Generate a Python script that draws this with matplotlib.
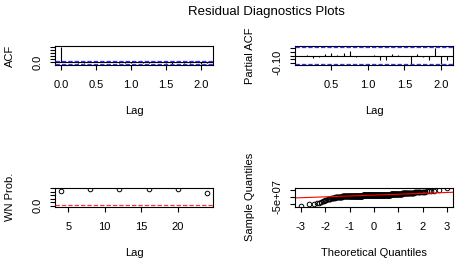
import matplotlib
matplotlib.use("Agg")
import matplotlib.pyplot as plt
import numpy as np
from statistics import NormalDist

plt.rcParams['font.family'] = ['Liberation Sans', 'DejaVu Sans']

# ---------------- data ----------------
FREQ = 12
acf_lags = list(range(0, 26))
acf_vals = [1.00, 0.00, 0.01, -0.03, -0.02, 0.02, 0.03, 0.01, 0.03, 0.05, -0.01,
            -0.01, -0.01, 0.01, -0.06, -0.05, 0.01, 0.00, -0.01, -0.11, 0.02,
            -0.02, -0.05, 0.09, -0.10, -0.06]
pacf_lags = list(range(1, 26))
pacf_vals = [0.00, 0.005, -0.035, -0.025, 0.015, 0.035, 0.01, 0.035, 0.055, -0.015,
             -0.01, -0.01, 0.005, -0.065, -0.055, 0.015, 0.005, -0.01, -0.12, 0.025,
             -0.02, -0.06, 0.10, -0.11, -0.06]
conf_limit = 0.12

wn_lags = [4, 8, 12, 16, 20, 24]
wn_pvals = [0.86, 0.97, 0.98, 0.98, 0.97, 0.70]
wn_threshold = 0.05

# sorted residuals, in units of 1e6
resid_sorted_e6 = [
    -117, -103, -101, -98, -94, -89, -84, -79, -75, -72, -69, -67, -64, -62, -60,
    -58, -57, -56, -55, -54, -53,
    -52, -51, -51, -50, -50, -49, -49, -48, -48,
    -47, -47, -47, -47, -47, -46, -46, -46, -46, -46, -46, -45, -45, -45, -45,
    -45, -45, -45, -44, -44, -44, -44, -44, -44, -44, -43, -43, -43, -43,
    -43, -43, -43, -43, -42, -42, -42, -42, -42, -42, -42, -42, -42, -42,
    -41, -41, -41, -41, -41, -41, -41, -41, -41, -41,
    -40, -40, -40, -40, -40, -40, -40, -40, -40, -40,
    -40, -40, -40, -40, -40,
    -39, -39, -39, -39, -39, -39, -39, -39, -39, -39,
    -39, -39, -39, -39, -39, -39, -39, -39, -39, -39,
    -38, -38, -38, -38, -38, -38, -38, -38, -38, -38,
    -38, -38, -38, -38, -38, -38, -38, -38, -38, -38,
    -37, -37, -37, -37, -37, -37, -37, -37, -37, -37,
    -37, -37, -37, -37, -37, -37, -37, -37, -37, -37,
    -36, -36, -36, -36, -36, -36, -36, -36, -36, -36,
    -36, -36, -36, -36, -36, -36, -36, -36, -36, -36,
    -35, -35, -35, -35, -35, -35, -35,
    -35, -35, -35, -35, -35, -35, -35, -35, -35, -35, -35, -35, -35,
    -34, -34, -34, -34, -34, -34, -34, -34, -34, -34,
    -34, -34, -34, -34, -34, -34, -34, -34, -34, -34,
    -33, -33, -33, -33, -33, -33, -33, -33, -33, -33,
    -33, -33, -33, -33, -33, -33, -33, -33, -33, -33,
    -32, -32, -32, -32, -32, -32, -32, -32, -32, -32,
    -32, -32, -32, -32, -32, -32, -32, -32, -32, -32,
    -31, -31, -31, -31, -31, -31, -31, -31, -31, -31,
    -31, -31, -31, -31, -31, -31, -31, -31, -31, -31,
    -30, -30, -30, -30, -30, -30, -30, -30,
    -29, -29, -29, -29, -29, -29, -29, -29, -29,
    -28, -28, -28, -28, -28, -28, -28, -28, -28,
    -27, -27, -27, -27, -27, -27, -27, -27,
    -26, -26, -26, -26, -25, -25, -25, -25, -24, -24, -24, -24,
    -23, -23, -23, -23, -22, -22, -22, -22, -22, -21, -21, -21, -21,
    -20, -20, -20, -20,
    -19, -19, -18, -18, -18, -17, -17, -17, -17,
    -16, -16, -15, -15, -14, -14, -14,
    -13, -12, -12, -11, -11,
    -10, -9, -8,
    -7, -5, -4,
    1, 17,
]

title = "Residual Diagnostics Plots"

# ---------------- helpers ----------------
W, H = 458, 264
fig = plt.figure(figsize=(W / 100, H / 100), dpi=100)


def add_ax(x0, x1, y0, y1):
    return fig.add_axes([x0 / W, 1 - y1 / H, (x1 - x0) / W, (y1 - y0) / H])


def rlim(lo, hi):
    d = (hi - lo) * 0.04
    return lo - d, hi + d


def style(ax, xticks, xlabels, yticks, ylabels):
    for s in ax.spines.values():
        s.set_linewidth(0.8)
    ax.set_xticks(xticks)
    ax.set_xticklabels(xlabels)
    ax.set_yticks(yticks)
    ax.set_yticklabels(ylabels, rotation=90, va='center')
    ax.tick_params(direction='out', length=3.4, width=0.8, labelsize=8)
    ax.tick_params(axis='x', pad=7.5)
    ax.tick_params(axis='y', pad=5.5)


def ftext(x, y, s, **kw):
    fig.text(x / W, 1 - y / H, s, ha='center', va='center', fontsize=8, **kw)


DASH = (0, (3.5, 1.6))

# ---------------- ACF ----------------
ax1 = add_ax(55, 213, 46, 65)
lx = np.array(acf_lags) / FREQ
ax1.vlines(lx, 0, acf_vals, colors='black', lw=0.8)
ax1.axhline(0, color='black', lw=0.8)
for c in (conf_limit, -conf_limit):
    ax1.axhline(c, color='#2f2fff', lw=0.9, ls=DASH, zorder=3)
ax1.set_xlim(*rlim(lx.min(), lx.max()))
ax1.set_ylim(*rlim(min(min(acf_vals), -conf_limit), max(max(acf_vals), conf_limit)))
style(ax1, [0, 0.5, 1.0, 1.5, 2.0], ['0.0', '0.5', '1.0', '1.5', '2.0'],
      [0, 0.2, 0.4, 0.6, 0.8, 1.0], ['0.0', '', '', '', '', ''])
ftext(134, 111, 'Lag')
ftext(10, 55.5, 'ACF', rotation=90)

# ---------------- PACF ----------------
ax2 = add_ax(295, 453, 46, 65)
px = np.array(pacf_lags) / FREQ
ax2.vlines(px, 0, pacf_vals, colors='black', lw=0.8)
ax2.axhline(0, color='black', lw=0.8)
for c in (conf_limit, -conf_limit):
    ax2.axhline(c, color='#2f2fff', lw=0.9, ls=DASH, zorder=3)
ax2.set_xlim(*rlim(px.min(), px.max()))
ax2.set_ylim(*rlim(min(min(pacf_vals), -conf_limit), max(max(pacf_vals), conf_limit)))
style(ax2, [0.5, 1.0, 1.5, 2.0], ['0.5', '1.0', '1.5', '2.0'],
      [-0.10, -0.05, 0, 0.05, 0.10], ['-0.10', '', '', '', ''])
ftext(374, 111, 'Lag')
ftext(250, 55.5, 'Partial ACF', rotation=90)

# ---------------- WN prob ----------------
ax3 = add_ax(55, 213, 187.5, 206.5)
ax3.plot(wn_lags, wn_pvals, 'o', ms=3.3, mfc='none', mec='black', mew=0.7)
ax3.axhline(wn_threshold, color='#ff3030', lw=0.9, ls=DASH, zorder=3)
ax3.set_xlim(*rlim(min(wn_lags), max(wn_lags)))
ax3.set_ylim(*rlim(0, 1))
style(ax3, [5, 10, 15, 20], ['5', '10', '15', '20'],
      [0, 0.2, 0.4, 0.6, 0.8, 1.0], ['0.0', '', '', '', '', ''])
ftext(134, 253, 'Lag')
ftext(10, 197, 'WN Prob.', rotation=90)

# ---------------- QQ ----------------
ax4 = add_ax(295, 453, 187.5, 206.5)
resid = np.array(resid_sorted_e6, dtype=float) * 1e6
n = len(resid)
nd = NormalDist()
theo = np.array([nd.inv_cdf((i + 0.5) / n) for i in range(n)])
ax4.plot(theo, resid, 'o', ms=3.3, mfc='none', mec='black', mew=0.7)
yq = np.quantile(resid, [0.25, 0.75])
xq = np.array([nd.inv_cdf(0.25), nd.inv_cdf(0.75)])
slope = (yq[1] - yq[0]) / (xq[1] - xq[0])
ax4.axline((xq[0], yq[0]), slope=slope, color='red', lw=0.8)
ax4.set_xlim(*rlim(theo.min(), theo.max()))
ax4.set_ylim(*rlim(resid.min(), resid.max()))
style(ax4, [-3, -2, -1, 0, 1, 2, 3], ['-3', '-2', '-1', '0', '1', '2', '3'],
      [-1e8, -5e7, 0], ['', '-5e+07', ''])
ftext(374, 253, 'Theoretical Quantiles')
ftext(250, 197, 'Sample Quantiles', rotation=90)

fig.text(266.5 / W, 1 - 11.7 / H, title, ha='center', va='center', fontsize=9.5)

fig.savefig('out.png', dpi=100)
